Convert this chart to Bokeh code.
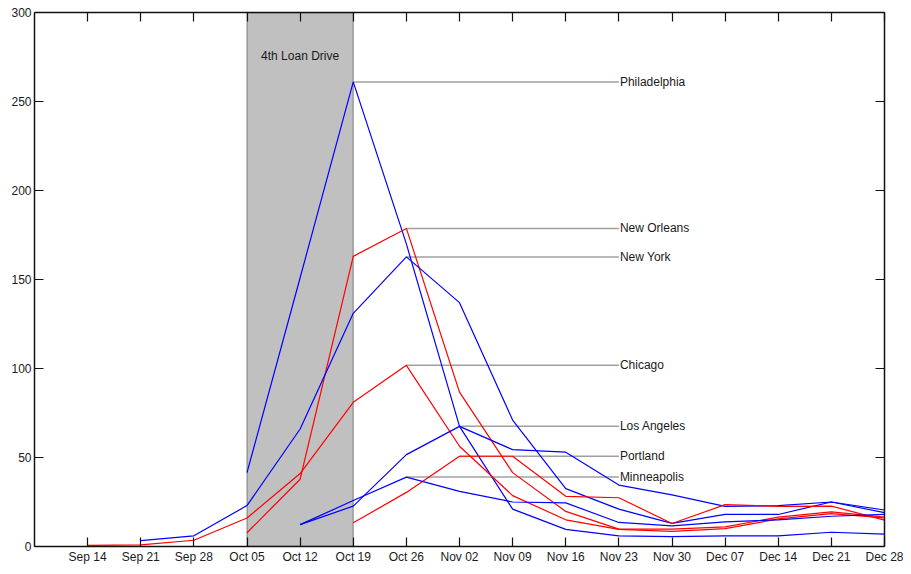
import numpy as np
from bokeh.plotting import figure
from bokeh.models import (Range1d, LinearAxis, FixedTicker, BoxAnnotation,
                          ColumnDataSource, Label)
from bokeh.embed import file_html
from bokeh.resources import INLINE

# ---- data -------------------------------------------------------------
weeks = ["Sep 14", "Sep 21", "Sep 28", "Oct 05", "Oct 12", "Oct 19", "Oct 26",
         "Nov 02", "Nov 09", "Nov 16", "Nov 23", "Nov 30", "Dec 07", "Dec 14",
         "Dec 21", "Dec 28"]
N = None
philadelphia = [N, N, N, 41.5, 151, 261, 170, 67.5, 21, 9.6, 6, 5.5, 6, 6, 8, 7]
new_orleans = [N, N, N, 7.7, 37.8, 163, 178.7, 86.7, 41.5, 19.7, 9.8, 9.8, 11, 16.5, 19.4, 16.5]
new_york = [N, 3.3, 6, 23, 66, 131, 162.7, 137, 71, 32.5, 21, 13, 18, 18, 25, 19]
chicago = [0.6, 0.9, 3.5, 16, 41, 81, 101.8, 56.3, 28.6, 15, 9.6, 8.5, 10, 15.5, 18.5, 16]
los_angeles = [N, N, N, N, 12.3, 22.7, 51.6, 67.5, 54.4, 53, 34.5, 29, 22.5, 23, 25, 20.5]
portland = [N, N, N, N, N, 13.3, 30.4, 50.7, 50.7, 28.2, 27.4, 12.9, 23.5, 22.5, 22.7, 14.8]
minneapolis = [N, N, N, N, 12.3, 25.8, 39, 31, 25, 24.5, 13.5, 11.6, 13.8, 15, 17, 18]

cities = ["Philadelphia", "New Orleans", "New York", "Chicago",
          "Los Angeles", "Portland", "Minneapolis"]
series = [philadelphia, new_orleans, new_york, chicago,
          los_angeles, portland, minneapolis]
colors = ["#0000FF", "#FF0000", "#0000FF", "#FF0000",
          "#0000FF", "#FF0000", "#0000FF"]

drive_label = "4th Loan Drive"
drive_start, drive_end = "Oct 05", "Oct 19"
label_week = "Nov 23"
y_ticks = [0, 50, 100, 150, 200, 250, 300]

# ---- figure -----------------------------------------------------------
FONT = "Liberation Sans"
TXT = "#1a1a1a"
x = np.arange(1, len(weeks) + 1)

p = figure(width=903, height=566, output_backend="svg", toolbar_location=None,
           x_range=Range1d(0, len(weeks)), y_range=Range1d(0, 300),
           x_axis_type=None, y_axis_type=None,
           min_border_left=34, min_border_right=19,
           min_border_top=12, min_border_bottom=17)
p.outline_line_color = None
p.xgrid.visible = False
p.ygrid.visible = False
p.background_fill_color = "white"
p.border_fill_color = "white"


def style_axis(ax, labels=True):
    ax.major_tick_in = 9
    ax.major_tick_out = 0
    ax.minor_tick_in = 9 if not labels else 0
    ax.minor_tick_out = 0
    ax.axis_line_color = "#111111"
    ax.axis_line_width = 1.5
    ax.major_tick_line_color = "#111111"
    ax.major_tick_line_width = 1.2
    ax.minor_tick_line_color = "#111111"
    ax.minor_tick_line_width = 1.2
    if labels:
        ax.major_label_text_font = FONT
        ax.major_label_text_font_size = "12px"
        ax.major_label_text_color = TXT
        ax.major_label_standoff = 3
    else:
        ax.major_label_standoff = 0


# bottom / left: labelled major ticks; top / right: unlabelled (minor) ticks
bottom = LinearAxis(ticker=FixedTicker(ticks=list(x)),
                    major_label_overrides={int(i): w for i, w in zip(x, weeks)})
style_axis(bottom)
p.add_layout(bottom, "below")

top = LinearAxis(ticker=FixedTicker(ticks=[], minor_ticks=list(x)))
style_axis(top, labels=False)
p.add_layout(top, "above")

left = LinearAxis(ticker=FixedTicker(ticks=y_ticks))
style_axis(left)
p.add_layout(left, "left")

right = LinearAxis(ticker=FixedTicker(ticks=[], minor_ticks=y_ticks))
style_axis(right, labels=False)
p.add_layout(right, "right")

# shaded loan drive band
x0 = weeks.index(drive_start) + 1
x1 = weeks.index(drive_end) + 1
band = BoxAnnotation(left=x0, right=x1, fill_color="#C0C0C0", fill_alpha=1.0,
                     line_color="#111111", line_width=1.5, level="underlay")
p.add_layout(band)
p.add_layout(Label(x=(x0 + x1) / 2, y=275.6, text=drive_label, text_align="center",
                   text_baseline="middle", text_font=FONT, text_font_size="12px",
                   text_color=TXT))

# leader lines + labels
lx = weeks.index(label_week) + 1
lead = dict(x0=[], x1=[], y=[], name=[])
for name, s in zip(cities, series):
    arr = np.array([np.nan if v is None else v for v in s], dtype=float)
    k = int(np.nanargmax(arr))
    lead["x0"].append(float(x[k]))
    lead["x1"].append(float(lx))
    lead["y"].append(float(arr[k]))
    lead["name"].append(name)
lsrc = ColumnDataSource(lead)
p.segment(x0="x0", y0="y", x1="x1", y1="y", source=lsrc,
          line_color="#a0a0a0", line_width=1.5)
p.text(x="x1", y="y", text="name", source=lsrc, text_align="left",
       text_baseline="middle", text_font={"value": FONT}, text_font_size="12px",
       text_color=TXT, x_offset=1)

# data lines
for name, s, c in zip(cities, series, colors):
    arr = np.array([np.nan if v is None else v for v in s], dtype=float)
    p.line(x, arr, line_color=c, line_width=1.2)

open("out.html", "w").write(file_html(p, INLINE))
